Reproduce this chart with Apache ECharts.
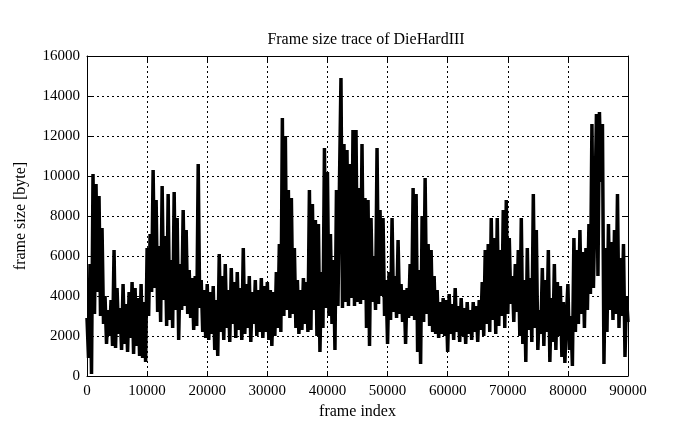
<!DOCTYPE html>
<html>
<head>
<meta charset="utf-8">
<script src="https://cdn.jsdelivr.net/npm/echarts@6/dist/echarts.min.js"></script>
<style>html,body{margin:0;padding:0;background:#fff}#c{width:695px;height:429px}</style>
</head>
<body>
<div id="c"></div>
<script>
// Frame index step between consecutive samples
var frameStep = 250;
// Frame sizes [byte], one array per 10000-frame block (40 samples each)
var block0 = [2900,900,5600,100,10100,3100,9600,4200,9000,3000,7400,2600,4000,1600,3300,2000,3800,1500,6300,1400,4400,2100,3400,1300,4600,1600,3600,1200,4200,1900,4700,1100,4400,1500,3900,1000,4600,900,3700,700];
var block1 = [6400,3000,7100,4200,10300,4400,8800,3200,6500,2700,9500,3800,7000,2500,9100,2800,5800,2400,9200,3300,7900,1800,5600,3300,8300,3500,7300,3100,5300,2900,4900,2300,5000,2500,10600,3400,4800,2200,4300,1900];
var block2 = [4600,1800,4200,2100,4500,1300,3800,1000,6100,2200,5000,1800,5600,2400,4300,1700,5400,2600,4700,1900,5200,2300,4400,1800,6400,2100,4600,2400,5000,1700,4200,2600,4800,2000,4300,2200,4900,1900,4500,2200];
var block3 = [4700,1800,4300,1500,4200,2000,5200,2400,6600,2200,12900,3000,12000,3300,9300,2900,8900,3100,6400,2400,4800,2100,4300,2300,4900,2600,4700,2200,9300,2300,8600,3300,7800,2000,7600,1200,5200,2400,11400,3400];
var block4 = [10200,3000,7100,2600,5800,1300,9300,3500,9600,14900,3400,11600,3700,11300,3500,10600,3900,12300,3500,12300,3700,9400,3600,11600,3800,8900,2400,8800,1500,7900,3700,6000,3300,11400,3600,8300,4000,7900,3000,4800];
var block5 = [1600,5200,2800,7900,3200,5000,2900,6800,3100,4600,2700,4300,1600,4400,2900,5600,3000,9400,2800,9100,1200,5300,600,8000,2700,9900,3100,6600,2500,6300,2200,5000,2100,4300,1900,3700,2100,3900,2000,3800];
var block6 = [1200,4100,2100,3600,1800,4400,2200,3500,1700,3900,2000,3400,1600,3700,2100,3300,1800,3700,2200,3500,1700,3800,2300,4700,2000,6300,2600,6600,2200,7900,2800,6900,2100,7900,2500,6300,3000,8300,2400,8800];
var block7 = [3100,6900,3600,5000,2700,5600,3200,6300,2000,7900,1600,4800,700,6400,2300,4900,1700,9100,2400,7300,1300,3300,2100,5400,1500,4800,2200,6300,700,3900,1700,5600,1300,4700,2000,4500,950,3700,650,2900];
var block8 = [4600,1300,3000,500,6900,2200,6300,2600,7300,3100,6200,2400,6400,3300,7600,4100,12600,4400,8300,13100,5000,13200,9700,12600,600,6400,2200,7600,3300,6700,2800,7300,3100,9100,2400,5900,3000,6600,950,4000];
var finalValue = 2700;
// Axis ticks
var xTicks = [0,10000,20000,30000,40000,50000,60000,70000,80000,90000];
var yTicks = [0,2000,4000,6000,8000,10000,12000,14000,16000];

var blocks = [block0,block1,block2,block3,block4,block5,block6,block7,block8];
var seriesData = [];
blocks.forEach(function(b, bi){
  b.forEach(function(v, i){ seriesData.push([bi*10000 + i*frameStep, v]); });
});
seriesData.push([90000, finalValue]);

var font = 'Liberation Serif';
var plain = function(v){ return String(v); };
var chart = echarts.init(document.getElementById('c'), null, {renderer:'canvas'});
var gridLine = {show:true, lineStyle:{color:'#000', width:1, type:[2,3]}};
chart.setOption({
  animation:false,
  backgroundColor:'#fff',
  title:{text:'Frame size trace of DieHardIII', left:361, top:27, textAlign:'center',
    textStyle:{fontFamily:font, fontSize:16, fontWeight:'normal', color:'#000'}},
  grid:{left:87, right:67, top:56, bottom:53, show:false},
  xAxis:[{
    type:'value', min:xTicks[0], max:xTicks[xTicks.length-1], interval:10000,
    name:'frame index', nameLocation:'middle', nameGap:26,
    nameTextStyle:{fontFamily:font, fontSize:16, color:'#000'},
    axisLine:{show:true, onZero:false, lineStyle:{color:'#000', width:1}},
    axisTick:{show:true, inside:true, length:5, lineStyle:{color:'#000'}},
    axisLabel:{fontFamily:font, fontSize:15, color:'#000', margin:8, formatter:plain},
    splitLine:gridLine
  },{
    type:'value', position:'top', min:xTicks[0], max:xTicks[xTicks.length-1], interval:10000,
    axisLine:{show:true, onZero:false, lineStyle:{color:'#000', width:1}},
    axisTick:{show:true, inside:true, length:5, lineStyle:{color:'#000'}},
    axisLabel:{show:false}, splitLine:{show:false}
  }],
  yAxis:[{
    type:'value', min:yTicks[0], max:yTicks[yTicks.length-1], interval:2000,
    name:'frame size [byte]', nameLocation:'middle', nameGap:58,
    nameTextStyle:{fontFamily:font, fontSize:16, color:'#000'},
    axisLine:{show:true, onZero:false, lineStyle:{color:'#000', width:1}},
    axisTick:{show:true, inside:true, length:5, lineStyle:{color:'#000'}},
    axisLabel:{fontFamily:font, fontSize:15, color:'#000', margin:7, formatter:plain},
    splitLine:gridLine
  },{
    type:'value', position:'right', min:yTicks[0], max:yTicks[yTicks.length-1], interval:2000,
    axisLine:{show:true, onZero:false, lineStyle:{color:'#000', width:1}},
    axisTick:{show:true, inside:true, length:5, lineStyle:{color:'#000'}},
    axisLabel:{show:false}, splitLine:{show:false}
  }],
  series:[{
    type:'line', data:seriesData, showSymbol:false, symbol:'none',
    lineStyle:{color:'#000', width:3.5, join:'miter', cap:'butt'}, silent:true, z:5
  }]
});
</script>
</body>
</html>
